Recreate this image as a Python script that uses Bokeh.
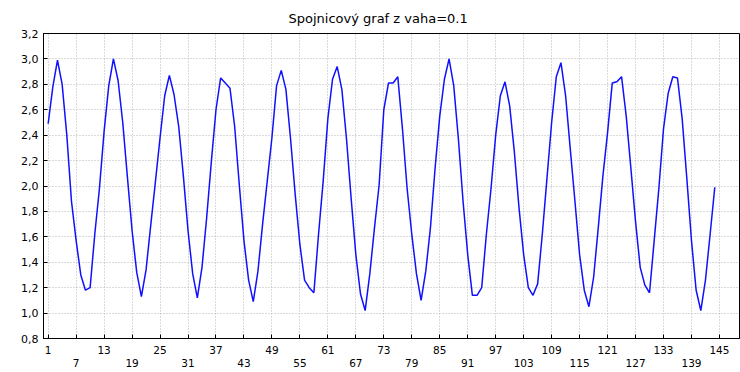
from bokeh.plotting import figure
from bokeh.models import FixedTicker, Range1d
from bokeh.embed import file_html
from bokeh.resources import INLINE

title_text = "Spojnicový graf z vaha=0.1"

x_values = list(range(1, 145))
y_values = [
    2.49, 2.78, 2.99, 2.80, 2.40, 1.88, 1.57, 1.30, 1.18, 1.20,
    1.62, 1.98, 2.43, 2.79, 3.00, 2.83, 2.50, 2.07, 1.65, 1.32,
    1.13, 1.34, 1.69, 2.03, 2.38, 2.71, 2.87, 2.72, 2.47, 2.08,
    1.65, 1.31, 1.12, 1.36, 1.75, 2.19, 2.60, 2.85, 2.81, 2.77,
    2.47, 2.01, 1.57, 1.26, 1.09, 1.33, 1.70, 2.04, 2.38, 2.79,
    2.91, 2.76, 2.37, 1.93, 1.54, 1.26, 1.20, 1.16, 1.62, 2.04,
    2.53, 2.84, 2.94, 2.76, 2.37, 1.90, 1.46, 1.15, 1.02, 1.31,
    1.67, 2.01, 2.60, 2.81, 2.81, 2.86, 2.45, 1.98, 1.62, 1.31,
    1.10, 1.33, 1.67, 2.14, 2.55, 2.84, 3.00, 2.79, 2.37, 1.88,
    1.46, 1.14, 1.14, 1.20, 1.62, 1.98, 2.40, 2.71, 2.82, 2.63,
    2.27, 1.83, 1.46, 1.20, 1.14, 1.23, 1.62, 2.06, 2.50, 2.86,
    2.97, 2.71, 2.29, 1.88, 1.46, 1.18, 1.05, 1.28, 1.67, 2.08,
    2.42, 2.81, 2.82, 2.86, 2.55, 2.14, 1.72, 1.36, 1.22, 1.16,
    1.57, 1.98, 2.45, 2.73, 2.86, 2.85, 2.53, 2.06, 1.57, 1.18,
    1.02, 1.26, 1.62, 1.99,
]

x_ticks_row1 = [1, 13, 25, 37, 49, 61, 73, 85, 97, 109, 121, 133, 145]
x_ticks_row2 = [7, 19, 31, 43, 55, 67, 79, 91, 103, 115, 127, 139]
y_ticks = [0.8, 1.0, 1.2, 1.4, 1.6, 1.8, 2.0, 2.2, 2.4, 2.6, 2.8, 3.0, 3.2]
y_tick_labels = ["0,8", "1,0", "1,2", "1,4", "1,6", "1,8", "2,0",
                 "2,2", "2,4", "2,6", "2,8", "3,0", "3,2"]

all_x_ticks = sorted(x_ticks_row1 + x_ticks_row2)
FONT = "DejaVu Sans"

p = figure(width=740, height=372, output_backend="svg", toolbar_location=None,
           x_range=Range1d(0.0, 149.3), y_range=Range1d(0.8, 3.2),
           min_border_left=43, min_border_right=1, min_border_top=33,
           min_border_bottom=30, background_fill_color="white",
           border_fill_color="white", outline_line_color="black",
           outline_line_width=1, title=title_text)

p.title.align = "left"
p.title.offset = 245
p.title.text_font = FONT
p.title.text_font_size = "13px"
p.title.text_font_style = "normal"
p.title.text_color = "black"
p.title.standoff = 16

p.line(x_values, y_values, line_color="#1010ff", line_width=1.5)

xa = p.xaxis[0]
xa.ticker = FixedTicker(ticks=all_x_ticks)
labels_x = {t: str(t) for t in x_ticks_row1}
labels_x.update({t: "\n" + str(t) for t in x_ticks_row2})
xa.major_label_overrides = labels_x
xa.major_tick_in = 4
xa.major_tick_out = 0
xa.minor_tick_line_color = None
xa.major_label_standoff = 5
xa.major_label_text_font = FONT
xa.major_label_text_font_size = "10.5px"
xa.major_label_text_line_height = 1.15
xa.major_label_text_color = "black"
xa.axis_line_color = "black"

ya = p.yaxis[0]
ya.ticker = FixedTicker(ticks=y_ticks)
ya.major_label_overrides = dict(zip(y_ticks, y_tick_labels))
ya.major_tick_in = 4
ya.major_tick_out = 0
ya.minor_tick_line_color = None
ya.major_label_standoff = 5
ya.major_label_text_font = FONT
ya.major_label_text_font_size = "11px"
ya.major_label_text_color = "black"
ya.axis_line_color = "black"

p.xgrid.ticker = FixedTicker(ticks=all_x_ticks)
p.ygrid.ticker = FixedTicker(ticks=y_ticks)
for g in (p.xgrid[0], p.ygrid[0]):
    g.grid_line_color = "#b4b4b4"
    g.grid_line_dash = "1 2"
    g.grid_line_width = 1

open("out.html", "w").write(file_html(p, INLINE))
